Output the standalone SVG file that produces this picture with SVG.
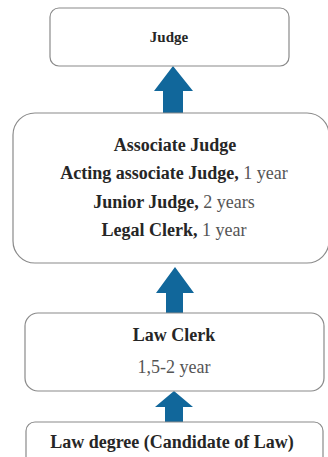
<svg xmlns="http://www.w3.org/2000/svg" width="328" height="457" viewBox="0 0 328 457">
<style>
.box{fill:#fff;stroke:#8a8a8a;stroke-width:1.2}
.t{font-family:"Liberation Serif","Times New Roman",serif;fill:#262626;text-anchor:middle}
.b{font-weight:bold}
.n{font-weight:normal;fill:#555}
.arr{fill:#11679b}
</style>
<rect width="328" height="457" fill="#fff"/>
<g id="connectors">
<polygon class="arr" points="173,66 193,91 183,91 183,113 163,113 163,91 154,91"/>
<polygon class="arr" points="175,267 194,293 183,293 183,313 166,313 166,293 156,293"/>
<polygon class="arr" points="174,391 193,407 183,407 183,422 165,422 165,407 155,407"/>
</g>
<g id="judge">
<rect class="box" x="50" y="8" width="239" height="58" rx="9"/>
<text class="t b" x="169" y="42" font-size="15">Judge</text>
</g>
<g id="associate">
<rect class="box" x="13" y="113" width="316" height="150" rx="22"/>
<text class="t b" x="175" y="151" font-size="18">Associate Judge</text>
<text class="t b" x="174" y="179" font-size="18">Acting associate Judge, <tspan class="n">1 year</tspan></text>
<text class="t b" x="174" y="208" font-size="18">Junior Judge, <tspan class="n">2 years</tspan></text>
<text class="t b" x="174" y="236" font-size="18">Legal Clerk, <tspan class="n">1 year</tspan></text>
</g>
<g id="lawclerk">
<rect class="box" x="25" y="313" width="299" height="78" rx="13"/>
<text class="t b" x="174" y="341" font-size="18">Law Clerk</text>
<text class="t n" x="174" y="373" font-size="18">1,5-2 year</text>
</g>
<g id="lawdegree">
<rect class="box" x="26" y="422" width="297" height="50" rx="9"/>
<text class="t b" x="172" y="448" font-size="18">Law degree (Candidate of Law)</text>
</g>
</svg>
